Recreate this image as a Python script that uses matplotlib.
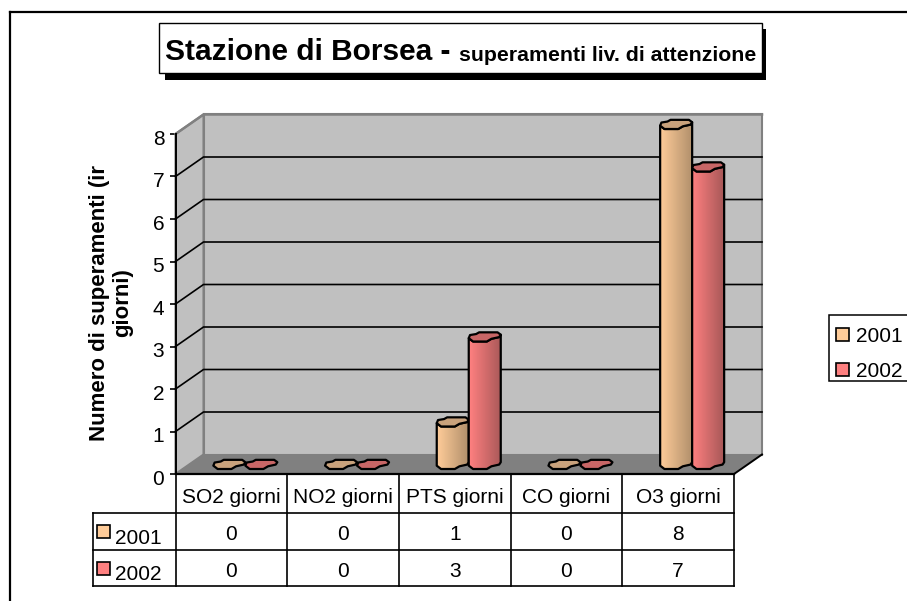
import numpy as np
import matplotlib
matplotlib.use("Agg")
import matplotlib.pyplot as plt
from matplotlib.colors import LinearSegmentedColormap
from matplotlib.patches import Polygon, Rectangle
from matplotlib.transforms import ScaledTranslation

plt.rcParams['font.family'] = ['Liberation Sans', 'DejaVu Sans']

categories = ["SO2 giorni", "NO2 giorni", "PTS giorni", "CO giorni", "O3 giorni"]
series_names = ["2001", "2002"]
values_2001 = [0, 0, 1, 0, 8]
values_2002 = [0, 0, 3, 0, 7]
y_ticks = [0, 1, 2, 3, 4, 5, 6, 7, 8]
title_main = "Stazione di Borsea -"
title_sub = "superamenti liv. di attenzione"
y_label = "Numero di superamenti (ir\ngiorni)"

W, H = 907, 601
fig = plt.figure(figsize=(W / 100, H / 100), dpi=100, facecolor="white")

# decoration layer in pixels
deco = fig.add_axes([0, 0, 1, 1], zorder=0)
deco.set_xlim(0, W); deco.set_ylim(H, 0); deco.axis("off")
deco.plot([10, 10], [H, 11.5], color="k", lw=1.6, solid_capstyle="projecting")
deco.plot([10, W], [11.5, 11.5], color="k", lw=1.6, solid_capstyle="projecting")
deco.add_patch(Rectangle((165, 29), 601, 50.5, fc="k", ec="k", lw=0))
deco.add_patch(Rectangle((159, 23), 603, 50, fc="w", ec="k", lw=1.0))
deco.text(165, 60, title_main, fontsize=21.5, fontweight="bold", va="baseline", ha="left")
deco.text(459, 61, title_sub, fontsize=15.3, fontweight="bold", va="baseline", ha="left")
deco.text(111, 303, y_label, rotation=90, fontsize=16, fontweight="bold", ha="center", va="center",
          linespacing=1.15, multialignment="center")
deco.add_patch(Rectangle((829, 315), 100, 66, fc="w", ec="k", lw=1.1))

# chart layer: front plane of the 3D box
x0, x1, ytop, ybot = 175.5, 734, 134, 474
ax = fig.add_axes([x0 / W, 1 - ybot / H, (x1 - x0) / W, (ybot - ytop) / H], zorder=1)
ax.patch.set_alpha(0)
n = len(categories)
ax.set_xlim(0, n); ax.set_ylim(0, 8)
for s in ("top", "right", "bottom"):
    ax.spines[s].set_visible(False)
ax.spines["left"].set_linewidth(1.4)
ax.set_xticks([])
ax.set_yticks(y_ticks)
ax.tick_params(axis="y", length=4.5, width=1.2, labelsize=15, pad=3.6)
shift = ScaledTranslation(0, -3.5 / 100, fig.dpi_scale_trans)
for lab in ax.get_yticklabels():
    lab.set_transform(lab.get_transform() + shift)

ux = (x1 - x0) / n      # pixels per category
uy = (ybot - ytop) / 8  # pixels per unit
ddx, ddy = 28 / ux, 19.5 / uy  # depth in data units
ymax = max(y_ticks)

# walls and floor
ax.add_patch(Polygon([(ddx, ddy), (n + ddx, ddy), (n + ddx, ymax + ddy), (ddx, ymax + ddy)],
                     fc="#C0C0C0", ec="#808080", lw=1.5, zorder=1, clip_on=False))
ax.add_patch(Polygon([(0, 0), (ddx, ddy), (ddx, ymax + ddy), (0, ymax)],
                     fc="#C0C0C0", ec="#808080", lw=1.5, zorder=1, clip_on=False))
ax.add_patch(Polygon([(0, 0), (n, 0), (n + ddx, ddy), (ddx, ddy)],
                     fc="#808080", ec="none", zorder=2, clip_on=False))
ax.plot([n, n + ddx], [0, ddy], color="k", lw=1.4, zorder=2, clip_on=False)
ax.plot([0, n], [0, 0], color="k", lw=1.6, zorder=2, clip_on=False)
for v in y_ticks[1:-1]:
    ax.plot([0, ddx, n + ddx], [v, v + ddy, v + ddy], color="k", lw=1.2, zorder=2, clip_on=False)
ax.plot([0, ddx, n + ddx], [ymax, ymax + ddy, ymax + ddy], color="#808080", lw=1.8, zorder=2, clip_on=False)

# cylinders, with the slightly irregular outline of the low-resolution 3D cap
bar_w = 32 / ux
ell_h = 9.5 / uy
colors = [("#FFCC99", "#B08F6B", "#C9A27C"), ("#FF8080", "#A85858", "#C86666")]
cap_lower = np.array([(-1.0, -0.3), (-0.73, -1), (0.13, -1), (0.42, -0.43), (0.9, -0.07), (1, 0.43)])
cap_upper = np.array([(0.8, 0.93), (-0.35, 0.93), (-0.54, 0.57), (-0.92, 0.36)])


def place(pts, cx, cy):
    return np.c_[cx + pts[:, 0] * bar_w / 2, cy + pts[:, 1] * ell_h / 2]


for s, vals in enumerate([values_2001, values_2002]):
    c0, c1, ctop = colors[s]
    cmap = LinearSegmentedColormap.from_list("g", [c0, c1])
    for i, v in enumerate(vals):
        cx = i + 0.5 + ddx / 2 + (s - 0.5) * bar_w
        base = ddy / 2
        z = 3 + s + (i * 0.01)
        if v > 0:
            outline = np.r_[place(cap_lower, cx, base), place(cap_lower[::-1], cx, base + v)]
            im = ax.imshow(np.linspace(0, 1, 64).reshape(1, -1), cmap=cmap, aspect="auto", zorder=z,
                           extent=(cx - bar_w / 2, cx + bar_w / 2, base - 1, base + v + 1))
            clip = Polygon(outline, closed=True, transform=ax.transData, fc="none", ec="none")
            ax.add_patch(clip)
            im.set_clip_box(fig.bbox)
            im.set_clip_path(clip)
            ax.add_patch(Polygon(outline, closed=True, fc="none", ec="k", lw=1.6, zorder=z + 0.2,
                                 clip_on=False, joinstyle="round"))
        cap = np.r_[place(cap_lower, cx, base + v), place(cap_upper, cx, base + v)]
        ax.add_patch(Polygon(cap, closed=True, fc=ctop, ec="k", lw=1.6, zorder=z + 0.3, clip_on=False,
                             joinstyle="round"))
ax.set_xlim(0, n); ax.set_ylim(0, 8)

# data table below the axis (row heights in data units)
row_h = [39 / uy, 37 / uy, 36 / uy]
edges = -np.cumsum(row_h)
leg_left = -(x0 - 93) / ux
line = dict(color="k", lw=1.2, zorder=2, clip_on=False)
for j in range(n + 1):
    ax.plot([j, j], [0, edges[-1]], **line)
ax.plot([leg_left, leg_left], [edges[0], edges[-1]], **line)
ax.plot([leg_left, n], [edges[0], edges[0]], **line)
for e in edges[1:]:
    ax.plot([leg_left, n], [e, e], **line)
for j, c in enumerate(categories):
    ax.text(j + 0.5, edges[0] / 2 - 4 / uy, c, ha="center", va="center", fontsize=15, clip_on=False)
for r, (name, vals) in enumerate(zip(series_names, [values_2001, values_2002])):
    yc = (edges[r] + edges[r + 1]) / 2
    for j, v in enumerate(vals):
        ax.text(j + 0.5, yc - 3.5 / uy, str(v), ha="center", va="center", fontsize=15, clip_on=False)
    ax.add_patch(Rectangle((leg_left + 4 / ux, yc - 6.5 / uy), 13 / ux, 13 / uy, fc=colors[r][0], ec="k", lw=1.2,
                           clip_on=False, zorder=3))
    ax.text(leg_left + 22 / ux, yc - 6.5 / uy, name, ha="left", va="center", fontsize=15, clip_on=False)

# legend
handles = [Rectangle((0, 0), 1, 1, fc=colors[r][0], ec="k", lw=1.2) for r in range(2)]
leg = fig.legend(handles, series_names, loc="center left", bbox_to_anchor=(832 / W, 1 - 354 / H),
                 frameon=False, fontsize=15, handlelength=0.6, handleheight=0.6, handletextpad=0.34,
                 labelspacing=0.75, borderpad=0.2, borderaxespad=0)

fig.savefig("out.png", dpi=100)
